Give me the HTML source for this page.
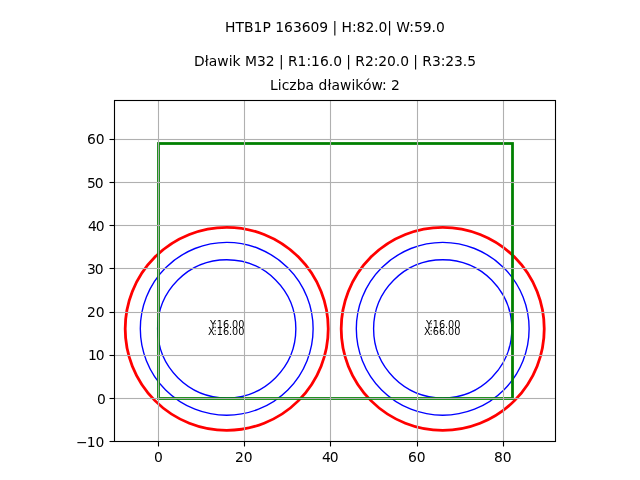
<!DOCTYPE html>
<html lang="pl">
<head>
<meta charset="utf-8">
<title>HTB1P 163609</title>
<style>
html,body{margin:0;padding:0;background:#fff;}
body{width:640px;height:480px;overflow:hidden;}
svg{display:block;}
text{font-family:"DejaVu Sans","Liberation Sans",sans-serif;fill:#000;white-space:pre;}
.t10{font-size:13.889px;}
.t7{font-size:9.722px;}
</style>
</head>
<body>
<svg width="640" height="480" viewBox="0 0 640 480">
<rect x="0" y="0" width="640" height="480" fill="#fff"/>
<defs><clipPath id="ax"><rect x="114" y="100" width="442" height="342"/></clipPath></defs>
<g clip-path="url(#ax)" fill="none">
<circle cx="226.72" cy="328.83" r="69.12" stroke="#0000ff" stroke-width="1.37"/>
<circle cx="226.72" cy="328.83" r="86.40" stroke="#0000ff" stroke-width="1.37"/>
<circle cx="226.72" cy="328.83" r="101.52" stroke="#ff0000" stroke-width="2.8"/>
<circle cx="442.72" cy="328.83" r="69.12" stroke="#0000ff" stroke-width="1.37"/>
<circle cx="442.72" cy="328.83" r="86.40" stroke="#0000ff" stroke-width="1.37"/>
<circle cx="442.72" cy="328.83" r="101.52" stroke="#ff0000" stroke-width="2.8"/>
<rect x="158.5" y="143.5" width="354" height="255" stroke="#008000" stroke-width="2.778"/>
</g>
<g stroke="#b0b0b0" stroke-width="1.111" fill="none">
<line x1="158.5" y1="100.5" x2="158.5" y2="441.5"/>
<line x1="244.5" y1="100.5" x2="244.5" y2="441.5"/>
<line x1="330.5" y1="100.5" x2="330.5" y2="441.5"/>
<line x1="417.5" y1="100.5" x2="417.5" y2="441.5"/>
<line x1="503.5" y1="100.5" x2="503.5" y2="441.5"/>
<rect x="114.5" y="138.9445" width="441" height="1.111" fill="#b0b0b0" stroke="none"/>
<rect x="114.5" y="181.9445" width="441" height="1.111" fill="#b0b0b0" stroke="none"/>
<rect x="114.5" y="224.9445" width="441" height="1.111" fill="#b0b0b0" stroke="none"/>
<rect x="114.5" y="267.9445" width="441" height="1.111" fill="#b0b0b0" stroke="none"/>
<rect x="114.5" y="311.9445" width="441" height="1.111" fill="#b0b0b0" stroke="none"/>
<rect x="114.5" y="354.9445" width="441" height="1.111" fill="#b0b0b0" stroke="none"/>
<rect x="114.5" y="397.9445" width="441" height="1.111" fill="#b0b0b0" stroke="none"/>
</g>
<g stroke="#000" stroke-width="1.111" fill="none">
<line x1="158.5" y1="441.5" x2="158.5" y2="446.5"/>
<line x1="244.5" y1="441.5" x2="244.5" y2="446.5"/>
<line x1="330.5" y1="441.5" x2="330.5" y2="446.5"/>
<line x1="417.5" y1="441.5" x2="417.5" y2="446.5"/>
<line x1="503.5" y1="441.5" x2="503.5" y2="446.5"/>
<line x1="109.5" y1="139.5" x2="114.5" y2="139.5"/>
<line x1="109.5" y1="182.5" x2="114.5" y2="182.5"/>
<line x1="109.5" y1="225.5" x2="114.5" y2="225.5"/>
<line x1="109.5" y1="268.5" x2="114.5" y2="268.5"/>
<line x1="109.5" y1="312.5" x2="114.5" y2="312.5"/>
<line x1="109.5" y1="355.5" x2="114.5" y2="355.5"/>
<line x1="109.5" y1="398.5" x2="114.5" y2="398.5"/>
<line x1="109.5" y1="441.5" x2="114.5" y2="441.5"/>
<rect x="114.5" y="100.5" width="441" height="341"/>
</g>
<g>
<text id="x0" class="t10" x="153.875" y="462">0</text>
<text id="x20" class="t10" x="234.875 243.625" y="462">20</text>
<text id="x40" class="t10" x="321.875 329.625" y="462">40</text>
<text id="x60" class="t10" x="407.875 416.75" y="462">60</text>
<text id="x80" class="t10" x="493.875 502.75" y="462">80</text>
<text id="y60" class="t10" x="86.875 95.75" y="144">60</text>
<text id="y50" class="t10" x="86.875 94.625" y="188">50</text>
<text id="y40" class="t10" x="87.875 95.625" y="231">40</text>
<text id="y30" class="t10" x="86.875 94.625" y="274">30</text>
<text id="y20" class="t10" x="86.875 95.625" y="317">20</text>
<text id="y10" class="t10" x="87.875 95.75" y="360">10</text>
<text id="y0" class="t10" x="96.875" y="404">0</text>
<text id="ym10" class="t10" x="76 86.625 95.5" y="447">−10</text>
<text id="cY16" class="t7" x="209.875 213.5 216.75 222.875 229 232 238.125" y="328">Y:16.00</text>
<text id="cX16" class="t7" x="207.875 213.5 216.75 222.875 229 232 238.125" y="335">X:16.00</text>
<text id="cY66" class="t7" x="425.875 429.5 432.75 438.875 445 448 454.125" y="328">Y:16.00</text>
<text id="cX66" class="t7" x="423.875 429.5 432.75 438.875 445 448 454.125" y="335">X:66.00</text>
<text id="t1" class="t10" x="225 235.375 243.875 253.5 262.375 270.75 275.125 284 292.875 301.625 310.5 319.25 328.125 332.5 337.125 341.5 351.875 356.5 365.375 374.125 378.5 387.25 391.875 396.25 409.25 413.875 422.625 431.5 435.875" y="32">HTB1P 163609 | H:82.0| W:59.0</text>
<text id="t2" class="t10" x="193.875 204.625 208.625 217.25 228.625 232.5 240.625 245 257 265.75 274.5 278.875 283.5 287.875 297.5 306.375 311 319.875 328.75 333.125 341.875 346.25 350.875 355.25 364.875 373.625 378.25 387 395.75 400.125 408.875 413.25 417.875 422.25 431.875 440.625 445.25 454 462.75 467.125" y="66">Dławik M32 | R1:16.0 | R2:20.0 | R3:23.5</text>
<text id="t3" class="t10" x="270 277.75 281.625 289.25 296.625 305.5 314.125 318.5 327.375 331.375 340 351.375 355.25 362.875 371.375 382 386.625 391" y="90">Liczba dławików: 2</text>
</g>
</svg>
</body>
</html>
